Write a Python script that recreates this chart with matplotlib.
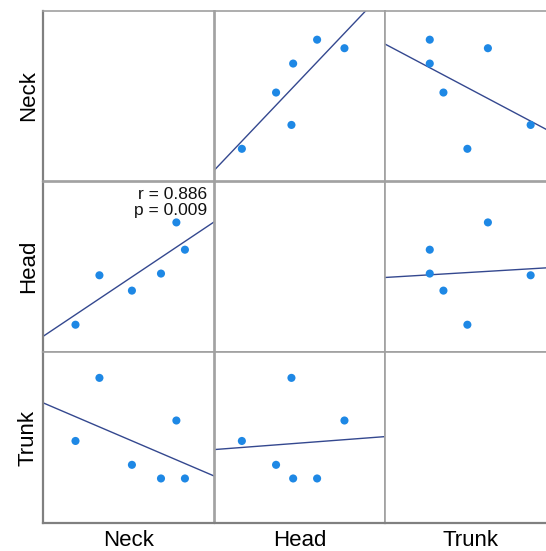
import numpy as np
import matplotlib
matplotlib.use("Agg")
import matplotlib.pyplot as plt

plt.rcParams['font.family'] = ['Liberation Sans', 'DejaVu Sans']

# Scores per subject
variables = ["Neck", "Head", "Trunk"]
neck = [1.9, 3.3, 5.2, 6.9, 7.8, 8.3]
head = [1.6, 4.5, 3.6, 4.6, 7.6, 6.0]
trunk = [4.8, 8.5, 3.4, 2.6, 6.0, 2.6]
r_text = "r = 0.886"
p_text = "p = 0.009"

data = {"Neck": np.array(neck), "Head": np.array(head), "Trunk": np.array(trunk)}

W, H = 546, 551
fig = plt.figure(figsize=(W / 100, H / 100), dpi=100)

col_left = [43, 214.5, 385.3]
row_top = [10.7, 181.5, 352.3]
cell_w, cell_h = 171, 170.5

point_color = "#1E88E5"
line_color = "#34488F"
edge_color = "#A0A0A0"

for i, yvar in enumerate(variables):
    for j, xvar in enumerate(variables):
        left = col_left[j] / W
        bottom = 1 - (row_top[i] + cell_h) / H
        ax = fig.add_axes([left, bottom, cell_w / W, cell_h / H])
        ax.set_xlim(0, 10)
        ax.set_ylim(0, 10)
        ax.set_xticks([])
        ax.set_yticks([])
        for s in ax.spines.values():
            s.set_color(edge_color)
            s.set_linewidth(1.2)
        if j == 0:
            ax.spines["left"].set_color("#808080")
            ax.spines["left"].set_linewidth(1.6)
        if i == 2:
            ax.spines["bottom"].set_color("#808080")
            ax.spines["bottom"].set_linewidth(1.6)
        if i == j:
            continue
        x = data[xvar]
        y = data[yvar]
        slope, icpt = np.polyfit(x, y, 1)
        xs = np.array([0, 10])
        ax.plot(xs, icpt + slope * xs, color=line_color, lw=1.0, zorder=2)
        ax.scatter(x, y, s=34, color=point_color, edgecolors="none", zorder=3)
        if yvar == "Head" and xvar == "Neck":
            ax.text(0.957, 0.925, r_text, transform=ax.transAxes, ha="right",
                    va="center", fontsize=12.5, color="#111111")
            ax.text(0.957, 0.827, p_text, transform=ax.transAxes, ha="right",
                    va="center", fontsize=12.5, color="#111111")

# Variable names along the left and bottom
for i, name in enumerate(variables):
    yc = 1 - (row_top[i] + cell_h / 2) / H
    fig.text(34 / W, yc, name, rotation=90, rotation_mode="anchor",
             ha="center", va="baseline", fontsize=16)
for j, name in enumerate(variables):
    xc = (col_left[j] + cell_w / 2) / W
    fig.text(xc, 1 - 546.5 / H, name, ha="center", va="baseline", fontsize=16)

fig.savefig("out.png", dpi=100)
